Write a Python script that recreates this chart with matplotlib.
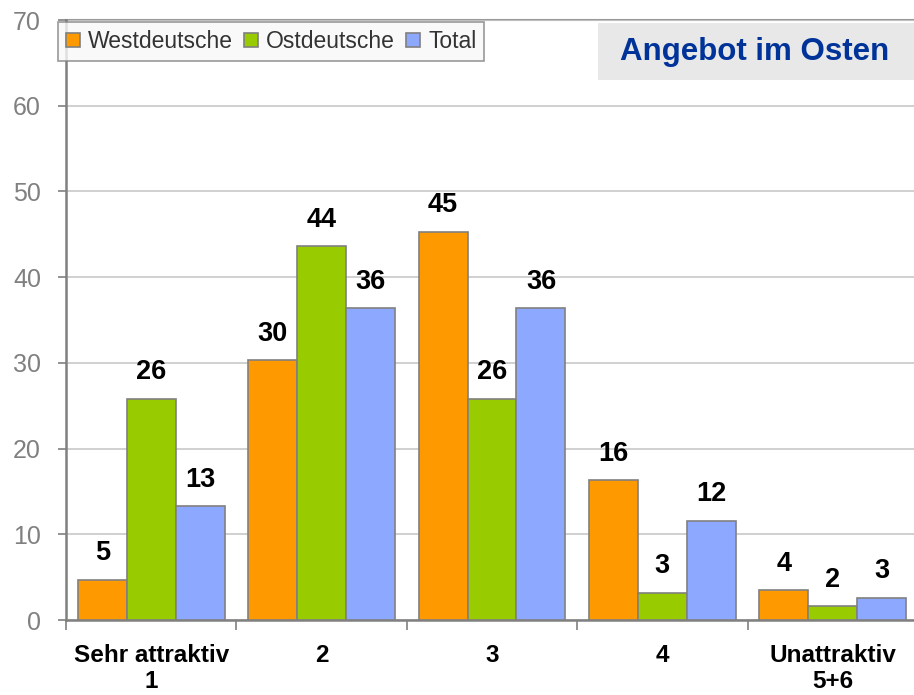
import matplotlib
matplotlib.use("Agg")
import matplotlib.pyplot as plt
from matplotlib.patches import Rectangle
import numpy as np

plt.rcParams['font.family'] = ['Liberation Sans', 'DejaVu Sans']

kategorien = ['Sehr attraktiv\n1', '2', '3', '4', 'Unattraktiv\n5+6']
serien = ['Westdeutsche', 'Ostdeutsche', 'Total']
west = [4.7, 30.3, 45.3, 16.3, 3.5]
ost = [25.8, 43.6, 25.8, 3.2, 1.6]
total = [13.3, 36.4, 36.4, 11.6, 2.6]
farben = ['#FF9900', '#99CC00', '#8DA8FF']
y_ticks = [0, 10, 20, 30, 40, 50, 60, 70]

fig = plt.figure(figsize=(9.14, 6.95), dpi=100)
ax = fig.add_axes([66 / 914, 1 - 620 / 695, 852 / 914, 600 / 695])

x = np.arange(len(kategorien))
breite = 0.2875
for i, (name, werte, farbe) in enumerate(zip(serien, [west, ost, total], farben)):
    bars = ax.bar(x + (i - 1) * breite, werte, breite, color=farbe,
                  edgecolor='#808080', linewidth=1.2, label=name, zorder=3)
    for b, v in zip(bars, werte):
        ax.annotate('%.0f' % v, (b.get_x() + b.get_width() / 2, v),
                    xytext=(0, 19), textcoords='offset points',
                    ha='center', va='center', fontsize=19.5, fontweight='bold',
                    color='black', zorder=4)

ax.set_xlim(-0.5, 4.5)
ax.set_ylim(0, 70)
ax.set_yticks(y_ticks)
ax.tick_params(axis='y', labelsize=18, labelcolor='#808080', color='#808080',
               length=6, width=1.2, pad=12)
ax.set_xticks(x)
ax.set_xticklabels(kategorien, fontsize=17.5, fontweight='bold', linespacing=1.2)
ax.tick_params(axis='x', which='major', length=0, pad=17)
ax.set_xticks(np.arange(-0.5, 4.0, 1.0), minor=True)
ax.tick_params(axis='x', which='minor', length=7, width=1.2, color='#808080')

ax.grid(axis='y', color='#C8C8C8', linewidth=1.2, zorder=0)
for s in ['top', 'right']:
    ax.spines[s].set_visible(False)
ax.spines['left'].set_color('#808080')
ax.spines['left'].set_linewidth(1.8)
ax.spines['bottom'].set_color('#808080')
ax.spines['bottom'].set_linewidth(1.8)
ax.axhline(70, color='#999999', linewidth=1.5, zorder=1, clip_on=False)

leg = fig.legend(loc='upper left', bbox_to_anchor=(58 / 914, 1 - 22 / 695),
                 ncol=3, fontsize=16.5, frameon=True, fancybox=False,
                 handlelength=0.6, handleheight=0.6, handletextpad=0.35,
                 columnspacing=0.5, borderpad=0.35, borderaxespad=0)
leg.get_frame().set_facecolor('#F8F8F8')
leg.get_frame().set_edgecolor('#808080')
leg.get_frame().set_linewidth(1.2)
for t in leg.get_texts():
    t.set_color('#333333')

fig.patches.append(Rectangle((598 / 914, 1 - 80 / 695), 320 / 914, 57 / 695,
                             transform=fig.transFigure, facecolor='#E8E8E8',
                             edgecolor='none', zorder=5))
fig.text(755 / 914, 1 - 52 / 695, 'Angebot im Osten', ha='center', va='center',
         fontsize=22.5, fontweight='bold', color='#003399', zorder=6)

fig.savefig('out.png', dpi=100)
